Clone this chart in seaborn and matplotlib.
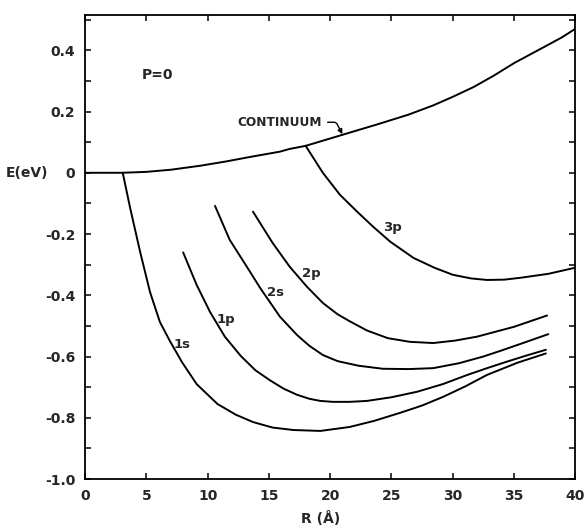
import matplotlib
matplotlib.use("Agg")
import matplotlib.pyplot as plt
import pandas as pd
import seaborn as sns
from matplotlib.ticker import MultipleLocator, FuncFormatter

# values: R in Angstrom, E in eV
continuum_r = [0, 3, 5, 7, 9.4, 11.5, 13.5, 15.9, 16.7, 18, 21, 24, 26.4, 28.4, 30.0,
               31.7, 33.3, 35.0, 36.3, 37.7, 38.9, 40]
continuum_e = [0, 0, 0.003, 0.01, 0.023, 0.037, 0.052, 0.069, 0.078, 0.088, 0.124, 0.16,
               0.19, 0.22, 0.248, 0.28, 0.316, 0.358, 0.386, 0.416, 0.442, 0.47]

s1_r = [3.07, 3.67, 4.5, 5.3, 6.1, 6.9, 7.9, 9.1, 10.8, 12.3, 13.7, 15.3, 17.0, 19.2,
        21.6, 23.6, 25.7, 27.5, 29.2, 31.0, 32.8, 35.3, 37.6]
s1_e = [0, -0.114, -0.26, -0.39, -0.487, -0.548, -0.618, -0.69, -0.755, -0.79, -0.814,
        -0.832, -0.84, -0.843, -0.83, -0.81, -0.784, -0.76, -0.732, -0.698, -0.66, -0.62, -0.59]

p1_r = [8.0, 9.1, 10.2, 11.4, 12.7, 13.9, 15.1, 16.2, 17.3, 18.3, 19.2, 20.2, 21.6, 23.0,
        25.0, 27.1, 29.2, 31.2, 32.8, 34.4, 36.0, 37.6]
p1_e = [-0.26, -0.366, -0.455, -0.535, -0.598, -0.645, -0.678, -0.705, -0.725, -0.738,
        -0.745, -0.748, -0.748, -0.745, -0.733, -0.715, -0.69, -0.66, -0.638, -0.617,
        -0.597, -0.578]

s2_r = [10.6, 11.8, 13.2, 14.3, 15.9, 17.3, 18.3, 19.4, 20.6, 22.3, 24.3, 26.4, 28.4,
        30.5, 32.5, 34.0, 35.3, 37.8]
s2_e = [-0.108, -0.219, -0.307, -0.377, -0.47, -0.53, -0.565, -0.595, -0.615, -0.63,
        -0.64, -0.641, -0.638, -0.622, -0.60, -0.58, -0.562, -0.527]

p2_r = [13.7, 15.3, 16.7, 18.1, 19.4, 20.6, 21.6, 23.0, 24.7, 26.5, 28.4, 30.2, 32.0,
        35.0, 37.7]
p2_e = [-0.127, -0.229, -0.307, -0.372, -0.425, -0.462, -0.485, -0.515, -0.54, -0.552,
        -0.556, -0.548, -0.535, -0.503, -0.466]

p3_r = [18.0, 19.4, 20.8, 22.2, 23.5, 24.9, 26.8, 28.5, 30.0, 31.5, 32.8, 34.2, 35.5,
        37.8, 40.0]
p3_e = [0.088, 0.0, -0.072, -0.127, -0.176, -0.225, -0.278, -0.31, -0.333, -0.345,
        -0.35, -0.349, -0.343, -0.33, -0.31]

curve_labels = ["1s", "1p", "2s", "2p", "3p"]
label_r = [7.9, 11.5, 15.5, 18.5, 25.1]
label_e = [-0.562, -0.48, -0.392, -0.33, -0.18]

curves = {
    "continuum": (continuum_r, continuum_e),
    "1s": (s1_r, s1_e),
    "1p": (p1_r, p1_e),
    "2s": (s2_r, s2_e),
    "2p": (p2_r, p2_e),
    "3p": (p3_r, p3_e),
}
df = pd.concat(
    [pd.DataFrame({"R": r, "E": e, "curve": name}) for name, (r, e) in curves.items()],
    ignore_index=True,
)

sns.set_style("ticks")
plt.rcParams["font.family"] = ["DejaVu Sans"]

fig = plt.figure(figsize=(5.87, 5.29), dpi=100)
ax = fig.add_axes([0.145, 0.0945, 0.835, 0.877])

sns.lineplot(data=df, x="R", y="E", units="curve", estimator=None, sort=False,
             color="black", linewidth=1.4, ax=ax)
for ln in ax.lines:
    ln.set_solid_joinstyle("round")

ax.set_xlim(0, 40)
ax.set_ylim(-1.0, 0.515)

ax.xaxis.set_major_locator(MultipleLocator(5))
ax.yaxis.set_major_locator(MultipleLocator(0.2))
ax.yaxis.set_minor_locator(MultipleLocator(0.1))
ax.xaxis.set_major_formatter(FuncFormatter(lambda v, p: f"{v:.0f}"))
ax.yaxis.set_major_formatter(FuncFormatter(lambda v, p: "0" if abs(v) < 1e-9 else f"{v:.1f}"))
ax.tick_params(which="both", direction="in", top=True, right=True, length=4.5,
               width=1.1, labelsize=10, pad=7, color="black")
for lab in ax.get_xticklabels() + ax.get_yticklabels():
    lab.set_fontweight("bold")
for sp in ax.spines.values():
    sp.set_linewidth(1.3)
    sp.set_color("black")

ax.set_xlabel("R (Å)", fontsize=10, fontweight="bold", va="top")
ax.xaxis.set_label_coords(0.48, -0.068)
ax.set_ylabel("E(eV)", fontsize=10, fontweight="bold", rotation=0, va="center", ha="center")
ax.yaxis.set_label_coords(-0.118, 0.66)

for name, r, e in zip(curve_labels, label_r, label_e):
    ax.text(r, e, name, fontsize=9.5, fontweight="bold", ha="center", va="center")

ax.text(5.9, 0.32, "P=0", fontsize=10, fontweight="bold", ha="center", va="center")
ax.annotate("CONTINUUM", xy=(21.0, 0.126), xytext=(12.4, 0.165),
            fontsize=8.7, fontweight="bold", ha="left", va="center",
            arrowprops=dict(arrowstyle="-|>", color="black", lw=1.0, mutation_scale=7,
                            relpos=(1.0, 0.5), shrinkA=2, shrinkB=0,
                            connectionstyle="angle,angleA=0,angleB=118,rad=2"))

fig.savefig("out.png", dpi=100)
